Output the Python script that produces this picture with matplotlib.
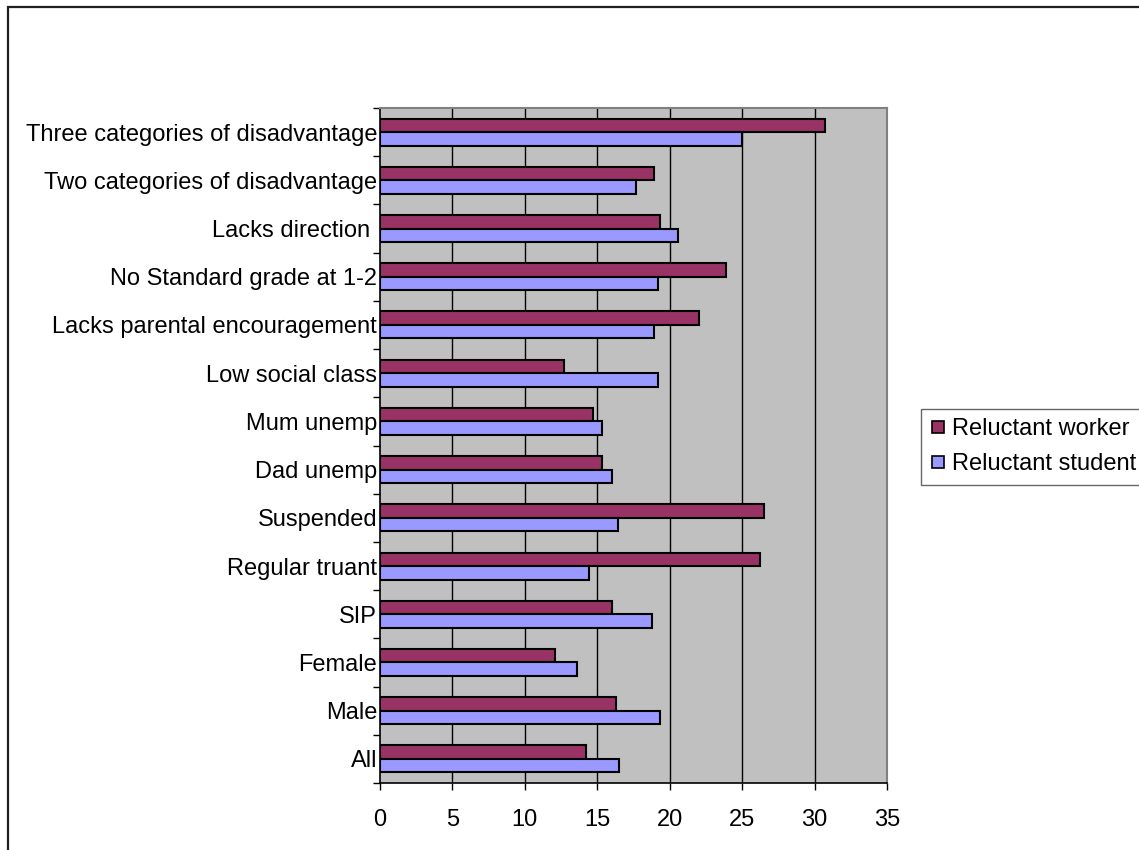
import matplotlib.pyplot as plt
import numpy as np
from matplotlib.lines import Line2D
from matplotlib.patches import Rectangle

plt.rcParams['font.family'] = ['Liberation Sans', 'DejaVu Sans']

# Categories from bottom to top
categorias = ['All', 'Male', 'Female', 'SIP', 'Regular truant', 'Suspended',
              'Dad unemp', 'Mum unemp', 'Low social class',
              'Lacks parental encouragement', 'No Standard grade at 1-2',
              'Lacks direction ', 'Two categories of disadvantage',
              'Three categories of disadvantage']

reluctant_worker = [14.2, 16.3, 12.1, 16.0, 26.2, 26.5, 15.3, 14.7, 12.7,
                    22.0, 23.9, 19.3, 18.9, 30.7]
reluctant_student = [16.5, 19.3, 13.6, 18.8, 14.4, 16.4, 16.0, 15.3, 19.2,
                     18.9, 19.2, 20.6, 17.7, 25.0]

x_ticks = [0, 5, 10, 15, 20, 25, 30, 35]

COLOR_WORKER = '#993366'
COLOR_STUDENT = '#9999FF'
COLOR_FONDO = '#C0C0C0'

fig = plt.figure(figsize=(11.39, 8.5), dpi=100)
fig.patch.set_facecolor('white')

# Marco exterior del area del grafico (solo bordes izquierdo y superior visibles)
fig.patches.append(Rectangle((8 / 1139, -0.05), 1.2, 1 - 7 / 850 + 0.05,
                             transform=fig.transFigure, fill=False,
                             edgecolor='#202020', linewidth=1.6))

ax = fig.add_axes([380 / 1139, 1 - 783 / 850, 507 / 1139, 675 / 850])
ax.set_facecolor(COLOR_FONDO)

y = np.arange(len(categorias))
alto = 0.28

ax.barh(y + alto / 2, reluctant_worker, height=alto, color=COLOR_WORKER,
        edgecolor='black', linewidth=1.5, zorder=3, label='Reluctant worker')
ax.barh(y - alto / 2, reluctant_student, height=alto, color=COLOR_STUDENT,
        edgecolor='black', linewidth=1.5, zorder=3, label='Reluctant student')

ax.set_xlim(0, 35)
ax.set_ylim(-0.5, len(categorias) - 0.5)

# Lineas verticales de la cuadricula
ax.set_xticks(x_ticks)
ax.set_xticklabels([str(t) for t in x_ticks], fontsize=17)
for t in x_ticks[1:-1]:
    ax.axvline(t, color='black', linewidth=1.0, zorder=1)

# Etiquetas en el centro de cada categoria, marcas en los limites
ax.set_yticks(y)
ax.set_yticklabels(categorias, fontsize=17)
ax.set_yticks(np.arange(-0.5, len(categorias)), minor=True)
ax.tick_params(axis='y', which='major', length=0, pad=2)
ax.tick_params(axis='y', which='minor', length=5, width=1, color='black')
ax.tick_params(axis='x', which='major', length=5, width=1, color='black', pad=14)

for lado in ['top', 'right']:
    ax.spines[lado].set_color('#808080')
    ax.spines[lado].set_linewidth(1.5)
for lado in ['left', 'bottom']:
    ax.spines[lado].set_color('black')
    ax.spines[lado].set_linewidth(1.2)

handles = [
    Line2D([], [], linestyle='none', marker='s', markersize=8.5,
           markerfacecolor=COLOR_WORKER, markeredgecolor='black', markeredgewidth=1.2),
    Line2D([], [], linestyle='none', marker='s', markersize=8.5,
           markerfacecolor=COLOR_STUDENT, markeredgecolor='black', markeredgewidth=1.2),
]
leg = fig.legend(handles, ['Reluctant worker', 'Reluctant student'],
                 loc='upper left', bbox_to_anchor=(921 / 1139, 1 - 409 / 850),
                 fontsize=17, frameon=True, fancybox=False, shadow=False,
                 borderaxespad=0, borderpad=0.4, handlelength=0.6,
                 handletextpad=0.3, labelspacing=0.55)
leg.get_frame().set_edgecolor('#404040')
leg.get_frame().set_linewidth(1.0)

fig.savefig('out.png', dpi=100, facecolor='white')
